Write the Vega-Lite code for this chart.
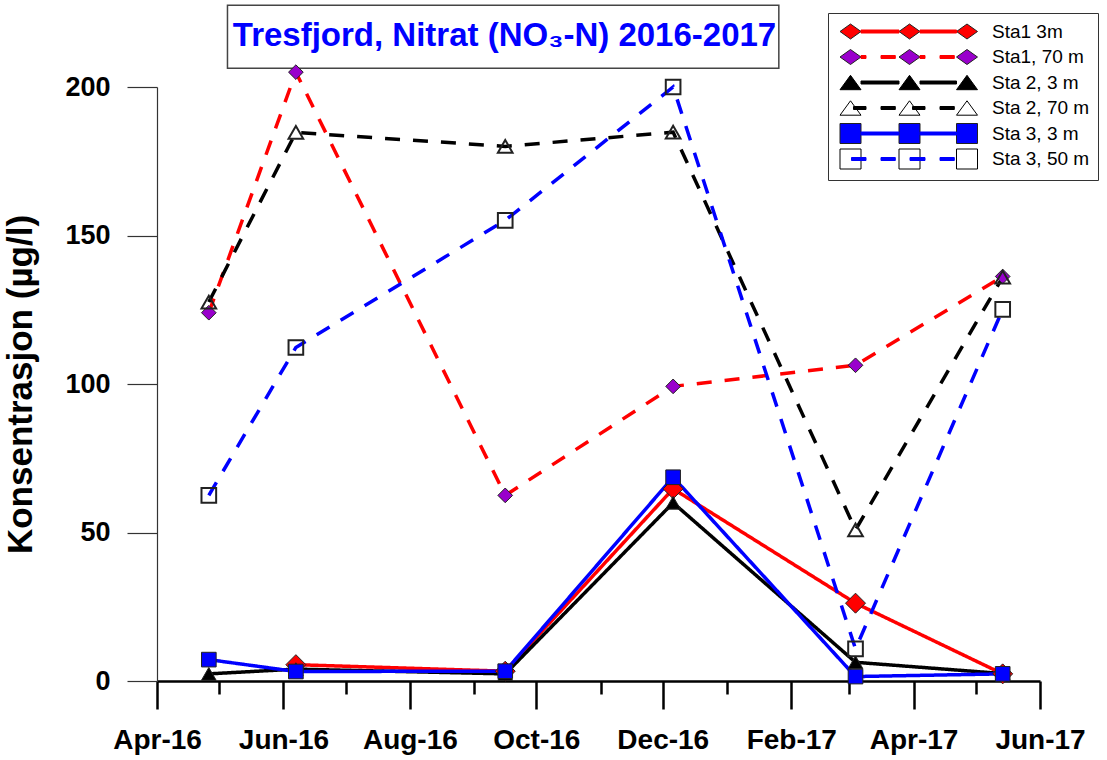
{
  "$schema": "https://vega.github.io/schema/vega-lite/v6.json",
  "width": 883,
  "height": 594,
  "autosize": {"type": "none"},
  "padding": {"left": 157, "top": 87, "right": 67, "bottom": 79},
  "background": "white",
  "config": {"view": {"stroke": null}, "font": "Liberation Sans"},
  "title": {
    "text": "Tresfjord, Nitrat (NO₃-N) 2016-2017",
    "fontSize": 33,
    "fontWeight": "bold",
    "color": "#0000FF",
    "font": "Liberation Sans",
    "anchor": "middle",
    "frame": "group",
    "dx": -94,
    "dy": 48,
    "offset": 0
  },
  "data": {
    "values": [
      {"series": "Sta1 3m", "date": "2016-06-07", "value": 5.5},
      {"series": "Sta1 3m", "date": "2016-09-16", "value": 3.3},
      {"series": "Sta1 3m", "date": "2016-12-06", "value": 64.7},
      {"series": "Sta1 3m", "date": "2017-03-04", "value": 26.2},
      {"series": "Sta1 3m", "date": "2017-05-14", "value": 2.4},
      {"series": "Sta1, 70 m", "date": "2016-04-26", "value": 124},
      {"series": "Sta1, 70 m", "date": "2016-06-07", "value": 205},
      {"series": "Sta1, 70 m", "date": "2016-09-16", "value": 62.5},
      {"series": "Sta1, 70 m", "date": "2016-12-06", "value": 99.2},
      {"series": "Sta1, 70 m", "date": "2017-03-04", "value": 106.3},
      {"series": "Sta1, 70 m", "date": "2017-05-14", "value": 136.2},
      {"series": "Sta 2, 3 m", "date": "2016-04-26", "value": 2.4},
      {"series": "Sta 2, 3 m", "date": "2016-06-07", "value": 4},
      {"series": "Sta 2, 3 m", "date": "2016-09-16", "value": 2.4},
      {"series": "Sta 2, 3 m", "date": "2016-12-06", "value": 60},
      {"series": "Sta 2, 3 m", "date": "2017-03-04", "value": 6.3},
      {"series": "Sta 2, 3 m", "date": "2017-05-14", "value": 2.5},
      {"series": "Sta 2, 70 m", "date": "2016-04-26", "value": 127.6},
      {"series": "Sta 2, 70 m", "date": "2016-06-07", "value": 184.7},
      {"series": "Sta 2, 70 m", "date": "2016-09-16", "value": 180},
      {"series": "Sta 2, 70 m", "date": "2016-12-06", "value": 184.8},
      {"series": "Sta 2, 70 m", "date": "2017-03-04", "value": 50.9},
      {"series": "Sta 2, 70 m", "date": "2017-05-14", "value": 136},
      {"series": "Sta 3, 3 m", "date": "2016-04-26", "value": 7.2},
      {"series": "Sta 3, 3 m", "date": "2016-06-07", "value": 3.2},
      {"series": "Sta 3, 3 m", "date": "2016-09-16", "value": 3.3},
      {"series": "Sta 3, 3 m", "date": "2016-12-06", "value": 68.6},
      {"series": "Sta 3, 3 m", "date": "2017-03-04", "value": 1.5},
      {"series": "Sta 3, 3 m", "date": "2017-05-14", "value": 2.4},
      {"series": "Sta 3, 50 m", "date": "2016-04-26", "value": 62.5},
      {"series": "Sta 3, 50 m", "date": "2016-06-07", "value": 112.3},
      {"series": "Sta 3, 50 m", "date": "2016-09-16", "value": 155.1},
      {"series": "Sta 3, 50 m", "date": "2016-12-06", "value": 200},
      {"series": "Sta 3, 50 m", "date": "2017-03-04", "value": 10.8},
      {"series": "Sta 3, 50 m", "date": "2017-05-14", "value": 125.1}
    ]
  },
  "layer": [
    {
      "data": {"values": [{"box": 1}]},
      "mark": {"type": "rect", "fill": "transparent", "stroke": "#444444", "strokeWidth": 1.5},
      "encoding": {
        "x": {"datum": {"year": 2016, "month": 5, "date": 5, "utc": true}, "type": "temporal",
              "scale": {"type": "utc", "domain": [{"year": 2016, "month": 4, "date": 1, "utc": true}, {"year": 2017, "month": 6, "date": 1, "utc": true}], "nice": false},
              "axis": null},
        "x2": {"datum": {"year": 2017, "month": 1, "date": 26, "utc": true}},
        "y": {"datum": 227.5, "type": "quantitative", "scale": {"domain": [0, 200], "nice": false, "zero": false}, "axis": null},
        "y2": {"datum": 206.3}
      }
    },
    {
      "mark": {"type": "line", "strokeWidth": 3.5},
      "encoding": {
        "x": {"field": "date", "type": "temporal",
              "scale": {"type": "utc", "domain": [{"year": 2016, "month": 4, "date": 1, "utc": true}, {"year": 2017, "month": 6, "date": 1, "utc": true}], "nice": false},
              "axis": {
                "orient": "bottom",
                "values": [
                  {"year": 2016, "month": 4, "date": 1, "utc": true},
                  {"year": 2016, "month": 6, "date": 1, "utc": true},
                  {"year": 2016, "month": 8, "date": 1, "utc": true},
                  {"year": 2016, "month": 10, "date": 1, "utc": true},
                  {"year": 2016, "month": 12, "date": 1, "utc": true},
                  {"year": 2017, "month": 2, "date": 1, "utc": true},
                  {"year": 2017, "month": 4, "date": 1, "utc": true},
                  {"year": 2017, "month": 6, "date": 1, "utc": true}
                ],
                "format": "%b-%y",
                "labelFontSize": 28,
                "labelFontWeight": "bold",
                "labelColor": "black",
                "labelPadding": 17,
                "labelFlush": false,
                "labelOverlap": false,
                "labelBound": false,
                "tickSize": 28,
                "tickWidth": 2.5,
                "tickColor": "black",
                "domainColor": "black",
                "domainWidth": 2.5,
                "grid": false,
                "title": null
              }},
        "y": {"field": "value", "type": "quantitative",
              "scale": {"domain": [0, 200], "nice": false, "zero": false},
              "axis": {
                "orient": "left",
                "values": [0, 50, 100, 150, 200],
                "tickSize": 30,
                "tickWidth": 1.2,
                "tickColor": "#333333",
                "domainColor": "#333333",
                "domainWidth": 1.2,
                "labelFontSize": 27,
                "labelFontWeight": "bold",
                "labelColor": "black",
                "labelPadding": 17,
                "title": "Konsentrasjon (µg/l)",
                "titleFontSize": 35,
                "titleFontWeight": "bold",
                "titleColor": "black",
                "titlePadding": 26,
                "grid": false
              }},
        "color": {"field": "series", "type": "nominal",
                  "scale": {"domain": ["Sta1 3m", "Sta1, 70 m", "Sta 2, 3 m", "Sta 2, 70 m", "Sta 3, 3 m", "Sta 3, 50 m"],
                            "range": ["#FF0000", "#FF0000", "#000000", "#000000", "#0000FF", "#0000FF"]},
                  "legend": null},
        "strokeDash": {"field": "series", "type": "nominal",
                  "scale": {"domain": ["Sta1 3m", "Sta1, 70 m", "Sta 2, 3 m", "Sta 2, 70 m", "Sta 3, 3 m", "Sta 3, 50 m"],
                            "range": [[1, 0], [15, 13], [1, 0], [15, 13], [1, 0], [15, 13]]},
                  "legend": null}
      }
    },
    {
      "mark": {"type": "point", "filled": true, "opacity": 1, "stroke": "#222222"},
      "encoding": {
        "x": {"field": "date", "type": "temporal",
              "scale": {"type": "utc", "domain": [{"year": 2016, "month": 4, "date": 1, "utc": true}, {"year": 2017, "month": 6, "date": 1, "utc": true}], "nice": false},
              "axis": {
                "orient": "bottom",
                "values": [
                  {"year": 2016, "month": 5, "date": 1, "utc": true},
                  {"year": 2016, "month": 7, "date": 1, "utc": true},
                  {"year": 2016, "month": 9, "date": 1, "utc": true},
                  {"year": 2016, "month": 11, "date": 1, "utc": true},
                  {"year": 2017, "month": 1, "date": 1, "utc": true},
                  {"year": 2017, "month": 3, "date": 1, "utc": true},
                  {"year": 2017, "month": 5, "date": 1, "utc": true}
                ],
                "labels": false,
                "domain": false,
                "tickSize": 13,
                "tickWidth": 2.5,
                "tickColor": "black",
                "grid": false,
                "title": null
              }},
        "y": {"field": "value", "type": "quantitative",
              "scale": {"domain": [0, 200], "nice": false, "zero": false}, "axis": null},
        "shape": {"field": "series", "type": "nominal",
                  "scale": {"domain": ["Sta1 3m", "Sta1, 70 m", "Sta 2, 3 m", "Sta 2, 70 m", "Sta 3, 3 m", "Sta 3, 50 m"],
                            "range": ["diamond", "diamond", "triangle-up", "triangle-up", "square", "square"]},
                  "legend": null},
        "fill": {"field": "series", "type": "nominal",
                 "scale": {"domain": ["Sta1 3m", "Sta1, 70 m", "Sta 2, 3 m", "Sta 2, 70 m", "Sta 3, 3 m", "Sta 3, 50 m"],
                           "range": ["#FF0000", "#9900CC", "#000000", "transparent", "#0000FF", "transparent"]},
                 "legend": null},
        "size": {"condition": {"test": "datum.series === 'Sta1 3m'", "value": 400}, "value": 215},
        "strokeWidth": {"condition": {"test": "datum.series === 'Sta 2, 70 m' || datum.series === 'Sta 3, 50 m'", "value": 2}, "value": 1}
      }
    },
    {
      "data": {"values": []},
      "mark": {"type": "point", "filled": true, "opacity": 1, "strokeWidth": 1},
      "encoding": {
        "shape": {"field": "series", "type": "nominal",
                  "scale": {"domain": ["L1", "L2", "L3", "L4", "L5", "L6"],
                            "range": [
                              "M-1.1,-1.1M12.75,1.1M1.05,-0.15H4.85V0.15H1.05ZM6.95,-0.15H10.6V0.15H6.95Z",
                              "M-1.1,-1.1M12.75,1.1M1.05,-0.15H1.55V0.15H1.05ZM3.05,-0.15H4.48V0.15H3.05ZM6.95,-0.15H7.45V0.15H6.95ZM8.95,-0.15H10.38V0.15H8.95Z",
                              "M-1.1,-1.1M12.75,1.1M1.05,-0.15H4.85V0.15H1.05ZM6.95,-0.15H10.6V0.15H6.95Z",
                              "M-1.1,-1.1M12.75,1.1M0.3,-0.15H1.55V0.15H0.3ZM3.05,-0.15H4.48V0.15H3.05ZM6.2,-0.15H7.45V0.15H6.2ZM8.95,-0.15H10.38V0.15H8.95Z",
                              "M-1.1,-1.1M12.75,1.1M1.05,-0.15H4.85V0.15H1.05ZM6.95,-0.15H10.6V0.15H6.95Z",
                              "M-1.1,-1.1M12.75,1.1M0.1,-0.15H1.55V0.15H0.1ZM3.05,-0.15H4.48V0.15H3.05ZM5.95,-0.15H7.45V0.15H5.95ZM8.95,-0.15H10.38V0.15H8.95Z"
                            ]},
                  "legend": {"title": null, "orient": "none", "legendX": 671, "legendY": -74, "padding": 8, "rowPadding": -1.5,
                             "symbolSize": 400, "symbolOffset": 4, "symbolStrokeWidth": 1, "symbolOpacity": 1,
                             "labelOffset": 131, "labelFontSize": 19, "labelExpr": "''", "labelLimit": 0, "zindex": 2}},
        "fill": {"field": "series", "type": "nominal",
                 "scale": {"domain": ["L1", "L2", "L3", "L4", "L5", "L6"],
                           "range": ["#FF0000", "#FF0000", "#000000", "#000000", "#0000FF", "#0000FF"]},
                 "legend": {"title": null, "orient": "none", "legendX": 671, "legendY": -74, "padding": 8, "rowPadding": -1.5,
                             "symbolSize": 400, "symbolOffset": 4, "symbolStrokeWidth": 1, "symbolOpacity": 1,
                             "labelOffset": 131, "labelFontSize": 19, "labelExpr": "''", "labelLimit": 0, "zindex": 2}},
        "stroke": {"field": "series", "type": "nominal",
                 "scale": {"domain": ["L1", "L2", "L3", "L4", "L5", "L6"],
                           "range": ["#FF0000", "#FF0000", "#000000", "#000000", "#0000FF", "#0000FF"]},
                 "legend": {"title": null, "orient": "none", "legendX": 671, "legendY": -74, "padding": 8, "rowPadding": -1.5,
                             "symbolSize": 400, "symbolOffset": 4, "symbolStrokeWidth": 1, "symbolOpacity": 1,
                             "labelOffset": 131, "labelFontSize": 19, "labelExpr": "''", "labelLimit": 0, "zindex": 2}}
      }
    },
    {
      "data": {"values": []},
      "mark": {"type": "point", "filled": true, "opacity": 1, "strokeWidth": 1},
      "encoding": {
        "shape": {"field": "series", "type": "nominal",
                  "scale": {"domain": ["Sta1 3m", "Sta1, 70 m", "Sta 2, 3 m", "Sta 2, 70 m", "Sta 3, 3 m", "Sta 3, 50 m"],
                            "range": [
                              "M-1.1,-1.1M12.75,1.1M-1.05,0L0,-0.75L1.05,0L0,0.75ZM4.85,0L5.9,-0.75L6.95,0L5.9,0.75ZM10.6,0L11.65,-0.75L12.7,0L11.65,0.75Z",
                              "M-1.1,-1.1M12.75,1.1M-1.05,0L0,-0.75L1.05,0L0,0.75ZM4.85,0L5.9,-0.75L6.95,0L5.9,0.75ZM10.6,0L11.65,-0.75L12.7,0L11.65,0.75Z",
                              "M-1.1,-1.1M12.75,1.1M0,-0.72L1.05,0.72L-1.05,0.72ZM5.9,-0.72L6.95,0.72L4.85,0.72ZM11.65,-0.72L12.7,0.72L10.6,0.72Z",
                              "M-1.1,-1.1M12.75,1.1M0,-0.72L1.05,0.72L-1.05,0.72ZM5.9,-0.72L6.95,0.72L4.85,0.72ZM11.65,-0.72L12.7,0.72L10.6,0.72Z",
                              "M-1.1,-1.1M12.75,1.1M-1.05,-1H1.05V1H-1.05ZM4.85,-1H6.95V1H4.85ZM10.6,-1H12.7V1H10.6Z",
                              "M-1.1,-1.1M12.75,1.1M-1.05,-1H1.05V1H-1.05ZM4.85,-1H6.95V1H4.85ZM10.6,-1H12.7V1H10.6Z"
                            ]},
                  "legend": {"title": null, "orient": "none", "legendX": 671, "legendY": -74, "padding": 8, "rowPadding": -1.5,
                             "symbolSize": 400, "symbolOffset": 4, "symbolStrokeWidth": 1, "symbolOpacity": 1,
                             "labelOffset": 131, "labelFontSize": 19, "labelColor": "black", "labelLimit": 0,
                             "strokeColor": "#333333", "fillColor": "white", "zindex": 1}},
        "fill": {"field": "series", "type": "nominal",
                 "scale": {"domain": ["Sta1 3m", "Sta1, 70 m", "Sta 2, 3 m", "Sta 2, 70 m", "Sta 3, 3 m", "Sta 3, 50 m"],
                           "range": ["#FF0000", "#9900CC", "#000000", "white", "#0000FF", "white"]},
                 "legend": {"title": null, "orient": "none", "legendX": 671, "legendY": -74, "padding": 8, "rowPadding": -1.5,
                             "symbolSize": 400, "symbolOffset": 4, "symbolStrokeWidth": 1, "symbolOpacity": 1,
                             "labelOffset": 131, "labelFontSize": 19, "labelColor": "black", "labelLimit": 0,
                             "strokeColor": "#333333", "fillColor": "white", "zindex": 1}},
        "stroke": {"field": "series", "type": "nominal",
                 "scale": {"domain": ["Sta1 3m", "Sta1, 70 m", "Sta 2, 3 m", "Sta 2, 70 m", "Sta 3, 3 m", "Sta 3, 50 m"],
                           "range": ["#222222", "#222222", "#000000", "#000000", "#222222", "#000000"]},
                 "legend": {"title": null, "orient": "none", "legendX": 671, "legendY": -74, "padding": 8, "rowPadding": -1.5,
                             "symbolSize": 400, "symbolOffset": 4, "symbolStrokeWidth": 1, "symbolOpacity": 1,
                             "labelOffset": 131, "labelFontSize": 19, "labelColor": "black", "labelLimit": 0,
                             "strokeColor": "#333333", "fillColor": "white", "zindex": 1}}
      }
    }
  ],
  "resolve": {
    "scale": {"shape": "independent", "fill": "independent", "stroke": "independent"},
    "axis": {"x": "independent", "y": "independent"}
  }
}
